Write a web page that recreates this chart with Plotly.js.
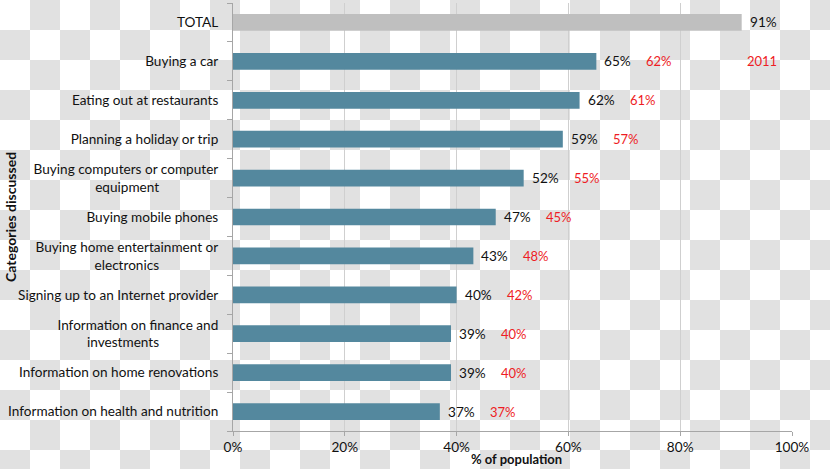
<!DOCTYPE html>
<html>
<head>
<meta charset="utf-8">
<script src="https://cdn.plot.ly/plotly-3.0.1.min.js"></script>
<style>
  html, body { margin: 0; padding: 0; }
  body {
    width: 830px; height: 469px; overflow: hidden;
    background: conic-gradient(#e1e1e1 25%, #ffffff 0 50%, #e1e1e1 0 75%, #ffffff 0) 0 0 / 60px 60px;
  }
  #chart { width: 830px; height: 469px; }
</style>
</head>
<body>
<div id="chart"></div>
<script>
// ---- data ----
const categories = [
  "TOTAL",
  "Buying a car",
  "Eating out at restaurants",
  "Planning a holiday or trip",
  "Buying computers or computer equipment",
  "Buying mobile phones",
  "Buying home entertainment or electronics",
  "Signing up to an Internet provider",
  "Information on finance and investments",
  "Information on home renovations",
  "Information on health and nutrition"
];
const tickLabels = [
  "TOTAL",
  "Buying a car",
  "Eating out at restaurants",
  "Planning a holiday or trip",
  "Buying computers or computer<br>equipment" + "\u00a0".repeat(17),
  "Buying mobile phones",
  "Buying home entertainment or<br>electronics" + "\u00a0".repeat(17),
  "Signing up to an Internet provider",
  "Information on finance and<br>investments" + "\u00a0".repeat(17),
  "Information on home renovations",
  "Information on health and nutrition"
];
const values2014 = [91, 65, 62, 59, 52, 47, 43, 40, 39, 39, 37];
const values2011 = [null, 62, 61, 57, 55, 45, 48, 42, 40, 40, 37];
const xTicks = [0, 20, 40, 60, 80, 100];
const legendLabel2011 = "2011";

// ---- styles ----
const teal = "#54889e";
const totalGrey = "#bfbfbf";
const redLabel = "#ee1c24";
const font = "Lato, 'Open Sans', sans-serif";
const fs = 13.6;

const barColors = categories.map(c => c === "TOTAL" ? totalGrey : teal);

const traces = [{
  type: "bar",
  orientation: "h",
  y: categories,
  x: values2014,
  marker: { color: barColors, line: { width: 0 } },
  hoverinfo: "none"
}];

const annotations = [];
categories.forEach((c, i) => {
  annotations.push({
    x: values2014[i], y: c, xref: "x", yref: "y",
    text: values2014[i] + "%", showarrow: false,
    xanchor: "left", xshift: 6,
    font: { family: font, size: fs, color: "#111111" }
  });
  if (values2011[i] !== null) {
    annotations.push({
      x: values2014[i], y: c, xref: "x", yref: "y",
      text: values2011[i] + "%", showarrow: false,
      xanchor: "left", xshift: 48,
      font: { family: font, size: 13, color: redLabel }
    });
  }
});
annotations.push({
  x: 0.916, xref: "paper", y: categories[1], yref: "y",
  text: legendLabel2011, showarrow: false, xanchor: "left",
  font: { family: font, size: 13, color: redLabel }
});
annotations.push({
  x: -0.399, xref: "paper", y: 0.5, yref: "paper",
  text: "<b>Categories discussed</b>", showarrow: false, textangle: -90,
  xanchor: "center", yanchor: "middle",
  font: { family: font, size: 14, color: "#111111" }
});
annotations.push({
  x: 0.508, xref: "paper", y: -0.065, yref: "paper",
  text: "<b>% of population</b>", showarrow: false,
  xanchor: "center", yanchor: "middle",
  font: { family: font, size: 13, color: "#111111" }
});

const layout = {
  width: 830, height: 469,
  margin: { l: 233, r: 38, t: 3, b: 38, pad: 0 },
  paper_bgcolor: "rgba(0,0,0,0)",
  plot_bgcolor: "rgba(0,0,0,0)",
  showlegend: false,
  bargap: 0.57,
  font: { family: font, size: fs, color: "#111111" },
  xaxis: {
    range: [0, 100],
    tickvals: xTicks,
    ticktext: xTicks.map(v => v + "%"),
    showgrid: true, gridcolor: "#cfcfcf", gridwidth: 1,
    zeroline: false,
    showline: true, linecolor: "#a6a6a6", linewidth: 1,
    ticks: "outside", ticklen: 4, tickcolor: "#a6a6a6",
    tickfont: { family: font, size: fs, color: "#111111" },
    fixedrange: true
  },
  yaxis: {
    type: "category",
    autorange: "reversed",
    tickvals: categories,
    ticktext: tickLabels,
    tickson: "boundaries",
    ticks: "outside", ticklen: 5, tickcolor: "#a6a6a6",
    ticklabelstandoff: 11,
    showline: true, linecolor: "#a6a6a6", linewidth: 1,
    showgrid: false, zeroline: false,
    tickfont: { family: font, size: fs, color: "#111111" },
    fixedrange: true
  },
  annotations: annotations
};

Plotly.newPlot("chart", traces, layout, { staticPlot: true, displayModeBar: false });
</script>
</body>
</html>
